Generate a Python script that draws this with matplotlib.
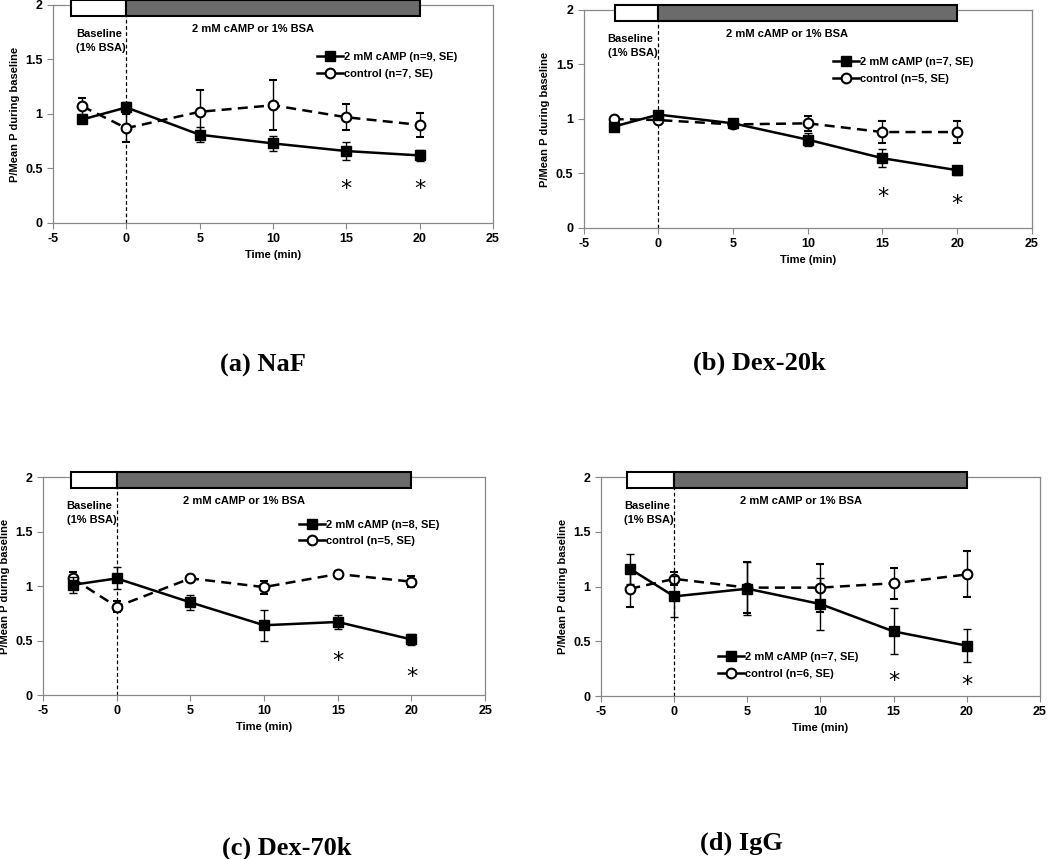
import numpy as np
import matplotlib
matplotlib.use("Agg")
import matplotlib.pyplot as plt
from matplotlib.patches import Rectangle
from matplotlib.lines import Line2D

plt.rcParams['font.family'] = ['Liberation Sans', 'DejaVu Sans']
plt.rcParams['font.weight'] = 'bold'
plt.rcParams['axes.unicode_minus'] = False

# time points (min)
t = [-3, 0, 5, 10, 15, 20]

# panel data: cAMP mean / SE, control mean / SE
titles = ['(a) NaF', '(b) Dex-20k', '(c) Dex-70k', '(d) IgG']
camp_n = [9, 7, 8, 7]
ctrl_n = [7, 5, 5, 6]

camp_a = [0.95, 1.06, 0.81, 0.73, 0.66, 0.62]
camp_a_se = [0.03, 0.05, 0.07, 0.07, 0.08, 0.05]
ctrl_a = [1.07, 0.87, 1.02, 1.08, 0.97, 0.90]
ctrl_a_se = [0.08, 0.13, 0.20, 0.23, 0.12, 0.11]

camp_b = [0.93, 1.04, 0.96, 0.81, 0.64, 0.53]
camp_b_se = [0.02, 0.03, 0.04, 0.06, 0.08, 0.04]
ctrl_b = [1.00, 0.99, 0.95, 0.96, 0.88, 0.88]
ctrl_b_se = [0.02, 0.02, 0.03, 0.07, 0.10, 0.10]

camp_c = [1.01, 1.07, 0.85, 0.64, 0.67, 0.51]
camp_c_se = [0.07, 0.10, 0.07, 0.14, 0.06, 0.05]
ctrl_c = [1.07, 0.81, 1.07, 0.99, 1.11, 1.04]
ctrl_c_se = [0.06, 0.05, 0.02, 0.06, 0.03, 0.05]

camp_d = [1.16, 0.91, 0.98, 0.84, 0.59, 0.46]
camp_d_se = [0.14, 0.19, 0.24, 0.24, 0.21, 0.15]
ctrl_d = [0.98, 1.07, 0.99, 0.99, 1.03, 1.11]
ctrl_d_se = [0.17, 0.06, 0.23, 0.22, 0.14, 0.21]

camp = [camp_a, camp_b, camp_c, camp_d]
camp_se = [camp_a_se, camp_b_se, camp_c_se, camp_d_se]
ctrl = [ctrl_a, ctrl_b, ctrl_c, ctrl_d]
ctrl_se = [ctrl_a_se, ctrl_b_se, ctrl_c_se, ctrl_d_se]

# significance stars at 15 and 20 min
star_x = [15, 20]
star_y = [[0.38, 0.38], [0.35, 0.285], [0.38, 0.23], [0.20, 0.17]]

# baseline bar start for each panel
bar_start = [-3.75, -2.9, -3.1, -3.2]

# axes rectangles (figure fraction)
rects = [[0.0505, 0.7404, 0.419, 0.2538],
         [0.556, 0.7346, 0.4267, 0.2538],
         [0.041, 0.1909, 0.421, 0.2538],
         [0.5724, 0.1897, 0.418, 0.2550]]
legend_pos = [(0.60, 0.785), (0.557, 0.785), (0.58, 0.805), (0.267, 0.20)]
title_pos = [(0.2095, 0.575), (0.660, 0.577), (0.211, 0.0128), (0.667, 0.0186)]

fig = plt.figure(figsize=(10.5, 8.59), dpi=100)

for i in range(4):
    ax = fig.add_axes(rects[i])
    ax.set_xlim(-5, 25)
    ax.set_ylim(0, 2)
    ax.set_xticks(np.arange(-5, 26, 5))
    ax.set_yticks([0, 0.5, 1, 1.5, 2])
    ax.set_yticklabels(['0', '0.5', '1', '1.5', '2'])
    for s in ax.spines.values():
        s.set_color('#888888')
        s.set_linewidth(0.9)
    ax.tick_params(direction='out', length=4, color='#888888', labelsize=9)
    for lab in ax.get_xticklabels() + ax.get_yticklabels():
        lab.set_fontweight('bold')

    ax.errorbar(t, camp[i], yerr=camp_se[i], color='black', lw=1.8,
                marker='s', markersize=7, capsize=3, elinewidth=1, zorder=4)
    ax.errorbar(t, ctrl[i], yerr=ctrl_se[i], color='black', lw=1.8,
                linestyle=(0, (4, 2.5)), marker='o', markersize=7,
                markerfacecolor='white', markeredgewidth=1.5, capsize=3,
                elinewidth=1, zorder=3)

    ax.axvline(0, color='black', lw=0.9, linestyle=(0, (3, 2)), ymax=0.95, zorder=2)

    # protocol bars
    ax.add_patch(Rectangle((bar_start[i], 1.90), 0 - bar_start[i], 0.145,
                           facecolor='white', edgecolor='black', lw=1.5,
                           clip_on=False, zorder=5))
    ax.add_patch(Rectangle((0, 1.90), 20, 0.145, facecolor='#6b6b6b',
                           edgecolor='black', lw=1.5, clip_on=False, zorder=5))

    ax.text(-3.4, 1.67, 'Baseline\n(1% BSA)', fontsize=8, fontweight='bold',
            va='center', ha='left', linespacing=1.45)
    ax.text(4.5, 1.78, '2 mM cAMP or 1% BSA', fontsize=8, fontweight='bold',
            va='center', ha='left')

    for sx, sy in zip(star_x, star_y[i]):
        ax.text(sx, sy - 0.12, '*', fontsize=16, ha='center', va='baseline',
                fontweight='normal', family='DejaVu Sans')

    ax.set_xlabel('Time (min)', fontsize=8, fontweight='bold', labelpad=3)
    ax.set_ylabel('P/Mean P during baseline', fontsize=8, fontweight='bold', labelpad=4)

    handles = [Line2D([], [], color='black', lw=1.8, marker='s', markersize=7),
               Line2D([], [], color='black', lw=1.8, marker='o', markersize=7,
                      markerfacecolor='white', markeredgewidth=1.5)]
    labels = ['2 mM cAMP (n=%d, SE)' % camp_n[i], 'control (n=%d, SE)' % ctrl_n[i]]
    leg = ax.legend(handles, labels, loc='upper left', bbox_to_anchor=legend_pos[i],
                    frameon=False, fontsize=8, handlelength=2.3, handletextpad=0.1,
                    labelspacing=0.6, borderaxespad=0, borderpad=0)
    for txt in leg.get_texts():
        txt.set_fontweight('bold')

    fig.text(title_pos[i][0], title_pos[i][1], titles[i], fontsize=19,
             fontweight='bold', family='Liberation Serif', ha='left', va='center')

fig.savefig('out.png', dpi=100)
